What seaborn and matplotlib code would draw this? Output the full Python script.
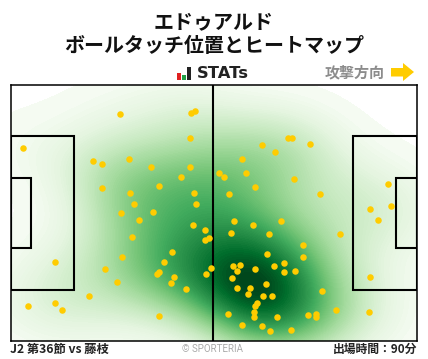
import numpy as np
import pandas as pd
import matplotlib
matplotlib.use('Agg')
import matplotlib.pyplot as plt
from matplotlib.patches import Polygon, Rectangle
import seaborn as sns

sns.set_style('white')
plt.rcParams['font.family'] = ['Noto Sans CJK JP', 'DejaVu Sans']

W, H = 428, 359

# ball touches, in picture pixels
touch_x = [120.3, 191.3, 195.3, 190.3, 23.3, 93.3, 102.3, 129.3, 151.3, 190.3, 181.3, 102.3, 159.3, 130.3,
           194.3, 134.3, 196.3, 121.3, 153.3, 139.3, 193.3, 288.3, 292.3, 262.3, 275.3, 310.3, 242.3, 219.3,
           224.3, 246.3, 294.3, 255.3, 229.3, 320.3, 388.3, 370.3, 391.3, 378.3, 234.3, 253.3, 281.3, 132.3,
           205.3, 205.3, 209.3, 172.3, 122.3, 164.3, 55.3, 105.3, 159.3, 157.3, 174.3, 206.3, 210.7, 117.3,
           171.3, 186.3, 89.3, 55.3, 28.3, 62.3, 159.3, 231.3, 269.3, 340.3, 303.3, 267.3, 303.3, 233.3,
           240.3, 237.3, 255.3, 274.3, 284.3, 284.3, 295.3, 232.3, 266.3, 237.3, 250.3, 248.3, 263.3, 272.3,
           322.3, 370.3, 257.3, 255.3, 254.3, 254.3, 228.3, 277.3, 308.3, 316.3, 316.3, 336.3, 369.3, 242.3,
           262.3, 270.3, 291.3]
touch_y = [114.3, 113.3, 111.3, 138.3, 148.3, 161.3, 164.3, 159.3, 167.3, 167.3, 177.3, 188.3, 186.3, 193.3,
           193.3, 204.3, 204.3, 213.3, 212.3, 220.3, 225.3, 138.3, 138.3, 145.3, 152.3, 144.3, 159.3, 173.3,
           177.3, 173.3, 179.3, 187.3, 194.3, 194.3, 184.3, 209.3, 206.3, 220.3, 221.3, 225.3, 221.3, 237.3,
           230.3, 240.3, 238.3, 252.3, 257.3, 262.3, 262.3, 269.3, 272.3, 274.3, 277.3, 274.3, 268.3, 282.3,
           283.3, 289.3, 296.3, 303.3, 306.3, 310.3, 316.3, 233.3, 234.3, 234.3, 245.3, 254.3, 257.3, 266.3,
           265.3, 271.3, 269.3, 266.3, 263.3, 272.3, 271.3, 278.3, 284.3, 288.3, 288.3, 294.3, 296.3, 296.3,
           291.3, 277.3, 303.3, 306.3, 312.3, 317.3, 314.3, 317.3, 315.3, 314.3, 317.3, 310.3, 312.3, 325.3,
           326.3, 331.3, 330.3]

title_lines = ['エドゥアルド', 'ボールタッチ位置とヒートマップ']
match_label = 'J2 第36節 vs 藤枝'
minutes_label = '出場時間：90分'
direction_label = '攻撃方向'

touches = pd.DataFrame({'x': touch_x, 'y': touch_y})

fig = plt.figure(figsize=(W / 100, H / 100), dpi=100)
left, right, top, bottom = 10.5, 416.5, 84.5, 340.5
ax = fig.add_axes([left / W, 1 - bottom / H, (right - left) / W, (bottom - top) / H])

# heat map
sns.kdeplot(data=touches, x='x', y='y', fill=True, cmap='Greens', levels=100, thresh=0.002,
            bw_adjust=1.15, gridsize=200, cut=6, clip=((left, right), (top, bottom)), ax=ax, antialiased=False)
sns.scatterplot(data=touches, x='x', y='y', color='#ffcc00', s=22, linewidth=0, ax=ax, zorder=4, clip_on=True)

# pitch lines
lw = 1.5
ax.axvline(212.5, color='black', lw=lw, zorder=3)
for x0, x1, y0, y1 in [(left, 74, 135.5, 289.5), (left, 31, 177.5, 247.5), (352.5, right, 135.5, 289.5), (395.5, right, 177.5, 247.5)]:
    ax.add_patch(Rectangle((x0, y0), x1 - x0, y1 - y0, fill=False, ec='black', lw=lw, zorder=3))

ax.set_xlim(left, right)
ax.set_ylim(bottom, top)
ax.set_xticks([])
ax.set_yticks([])
ax.set_xlabel('')
ax.set_ylabel('')
for s in ax.spines.values():
    s.set_linewidth(1.1)
    s.set_color('black')
    s.set_zorder(5)

# header and footer
fig.text(214 / W, 1 - 21.5 / H, title_lines[0], ha='center', va='center', fontsize=14.4, fontweight='bold', color='#111111')
fig.text(214 / W, 1 - 46 / H, title_lines[1], ha='center', va='center', fontsize=14.4, fontweight='bold', color='#111111')
fig.text(197 / W, 1 - 73.5 / H, 'STATs', ha='left', va='center', fontsize=11.8, fontweight='bold', color='#222222', family='DejaVu Sans')
fig.text(355 / W, 1 - 72 / H, direction_label, ha='center', va='center', fontsize=10.8, fontweight='bold', color='#8c8c8c')
fig.text(10.5 / W, 1 - 349.5 / H, match_label, ha='left', va='center', fontsize=8.8, fontweight='bold', color='#222222')
fig.text(213 / W, 1 - 348.5 / H, '© SPORTERIA', ha='center', va='center', fontsize=7, color='#aaaaaa', family='Roboto')
fig.text(417 / W, 1 - 349.5 / H, minutes_label, ha='right', va='center', fontsize=8.5, fontweight='bold', color='#222222')

# logo bars and direction arrow
def px_poly(pts, color):
    fig.add_artist(Polygon([(p / W, 1 - q / H) for p, q in pts], closed=True, fc=color, ec='none', transform=fig.transFigure))

px_poly([(177, 73), (181, 73), (181, 80), (177, 80)], '#e02020')
px_poly([(182, 75), (186, 75), (186, 80), (182, 80)], '#22a045')
px_poly([(187, 67), (191, 67), (191, 80), (187, 80)], '#222222')
px_poly([(391, 68), (403, 68), (403, 63), (414, 72), (403, 81), (403, 76.5), (391, 76.5)], '#ffcc00')

fig.savefig('out.png', dpi=100)
